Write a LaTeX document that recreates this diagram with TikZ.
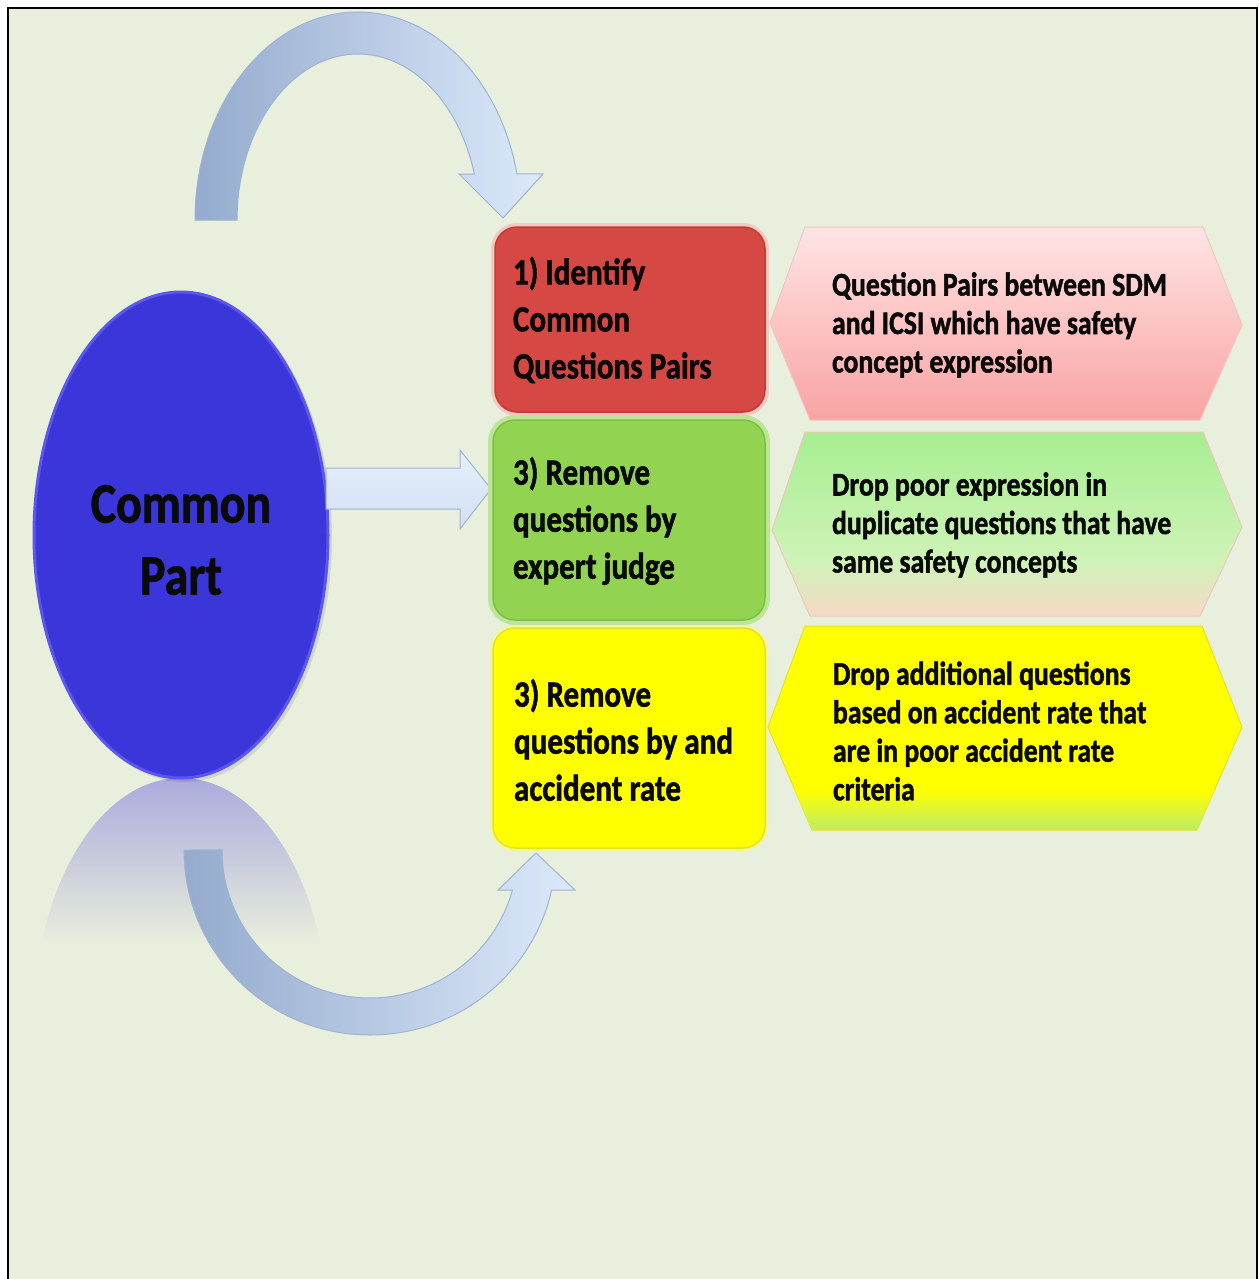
\documentclass[tikz,border=0pt]{standalone}
\usepackage{fontspec}
\setmainfont{Carlito}[BoldFeatures={FakeBold=1.6}]
\usetikzlibrary{shapes.geometric}

\definecolor{pagebg}{HTML}{E8EFDC}
\definecolor{discblue}{HTML}{3A36DA}
\definecolor{discrim}{HTML}{5A57EA}
\definecolor{reflecttop}{HTML}{ABAADD}
\definecolor{arrowdark}{HTML}{94ABCD}
\definecolor{arrowlight}{HTML}{DCE9FA}
\definecolor{arrowline}{HTML}{9DB4D2}
\definecolor{redfill}{HTML}{D64843}
\definecolor{redline}{HTML}{C23B36}
\definecolor{redglow}{HTML}{F3C9C0}
\definecolor{greenfill}{HTML}{92D452}
\definecolor{greenline}{HTML}{7DBE44}
\definecolor{greenglow}{HTML}{BCE596}
\definecolor{yellowfill}{HTML}{FFFF00}
\definecolor{yellowline}{HTML}{E2E22A}
\definecolor{yellowglow}{HTML}{F6F59A}
\definecolor{pinktop}{HTML}{FFE4E4}
\definecolor{pinkbottom}{HTML}{F9A3A3}
\definecolor{pinkline}{HTML}{EFC6BE}
\definecolor{mintop}{HTML}{A6EE90}
\definecolor{minmid}{HTML}{CFF3B8}
\definecolor{minbottom}{HTML}{F7D8C6}
\definecolor{limeband}{HTML}{BDEB6A}
\definecolor{inkblack}{HTML}{0A0A0A}

\tikzset{
  stepbox/.style={rectangle, rounded corners=22pt, line width=1.5pt},
  curvedarrow/.style={draw=arrowline, line width=1pt, left color=arrowdark, right color=arrowlight},
  straightarrow/.style={draw=arrowline, line width=1pt, top color=arrowlight!70!white, bottom color=arrowlight!85!arrowdark},
  boxtext/.style={anchor=west, align=left, xscale=0.84, text=inkblack,
    font=\bfseries\fontsize{37}{47}\selectfont},
  hextext/.style={anchor=west, align=left, xscale=0.84, text=inkblack,
    font=\bfseries\fontsize{33}{38.5}\selectfont},
}

\begin{document}
\begin{tikzpicture}[x=1pt, y=-1pt, every node/.style={inner sep=0pt, outer sep=0pt}]
\useasboundingbox (0,0) rectangle (1260,1279);

% page and frame
\fill[white] (0,0) rectangle (1260,1279);
\fill[pagebg] (8,8) rectangle (1257,1290);
\draw[line width=2.5pt] (8,1300) -- (8,8) -- (1257,8) -- (1257,1300);

% mirrored reflection of the disc
\begin{scope}
  \clip (181,1021) ellipse [x radius=147, y radius=243];
  \shade[top color=reflecttop, bottom color=pagebg] (30,778) rectangle (335,945);
\end{scope}

% disc with soft shadow
\fill[black, opacity=0.10] (184,538) ellipse [x radius=148, y radius=244];
\node[ellipse, fill=discblue, draw=discrim, line width=3pt,
      minimum width=294pt, minimum height=486pt] (common) at (181,535) {};
\node[align=center, text=inkblack, xscale=0.84,
      font=\bfseries\fontsize{57}{72}\selectfont] (commontext) at (181,540) {Common\\Part};

% curved arrow over the top into step 1
\path[curvedarrow] (195,220)
  arc[start angle=180, end angle=347.2, x radius=163, y radius=208]
  -- (543,174) -- (503,218) -- (459,174) -- (474.3,174)
  arc[start angle=343.9, end angle=180, x radius=121, y radius=166] -- cycle;

% straight arrow into the middle step
\path[straightarrow] (326,468) -- (460,468) -- (460,450) -- (491,489)
  -- (460,529) -- (460,509) -- (326,509) -- cycle;

% curved arrow underneath into the last step
\path[curvedarrow] (184,850)
  arc[start angle=180, end angle=12.5, x radius=186, y radius=185]
  -- (575,890) -- (536,853) -- (498,890) -- (512.5,890)
  arc[start angle=15.7, end angle=180, x radius=148, y radius=148] -- cycle;

% step boxes
\node[stepbox, preaction={draw=redglow, line width=8pt}, fill=redfill, draw=redline,
      minimum width=270pt, minimum height=185pt] (identify) at (630,319.5) {};
\node[stepbox, preaction={draw=greenglow, line width=10pt}, fill=greenfill, draw=greenline,
      minimum width=272pt, minimum height=200pt] (expert) at (629,520) {};
\node[stepbox, preaction={draw=yellowglow, line width=6pt}, fill=yellowfill, draw=yellowline,
      minimum width=272pt, minimum height=220pt] (accident) at (629,738) {};

\node[boxtext] (identifytext) at (513,320) {1) Identify\\Common\\Questions Pairs};
\node[boxtext] (experttext) at (513,521) {3) Remove\\questions by\\expert judge};
\node[boxtext] (accidenttext) at (514,740) {3) Remove\\questions by and\\accident rate};

% description hexagons
\shade[top color=pinktop, bottom color=pinkbottom, draw=pinkline, line width=1pt]
  (770,323) -- (805,227) -- (1203,227) -- (1242,325) -- (1200,420) -- (810,420) -- cycle;

\begin{scope}
  \clip (772,530) -- (805,432) -- (1203,432) -- (1242,527) -- (1200,616) -- (810,616) -- cycle;
  \shade[top color=mintop, bottom color=minmid] (760,430) rectangle (1250,562);
  \shade[top color=minmid, bottom color=minbottom] (760,561) rectangle (1250,618);
\end{scope}
\draw[pinkline, line width=1pt]
  (772,530) -- (805,432) -- (1203,432) -- (1242,527) -- (1200,616) -- (810,616) -- cycle;

\begin{scope}
  \path[fill=yellowfill, draw=yellowline, line width=1pt]
    (768,727) -- (805,626) -- (1202,626) -- (1242,727) -- (1197,830) -- (812,830) -- cycle;
  \clip (768,727) -- (805,626) -- (1202,626) -- (1242,727) -- (1197,830) -- (812,830) -- cycle;
  \shade[top color=yellowfill, bottom color=limeband] (760,790) rectangle (1250,831);
\end{scope}

\node[hextext] (pairstext) at (832,325) {Question Pairs between SDM\\and ICSI which have safety\\concept expression};
\node[hextext] (droptext) at (832,525) {Drop poor expression in\\duplicate questions that have\\same safety concepts};
\node[hextext] (ratetext) at (833,731) {Drop additional questions\\based on accident rate that\\are in poor accident rate\\criteria};

\end{tikzpicture}
\end{document}
